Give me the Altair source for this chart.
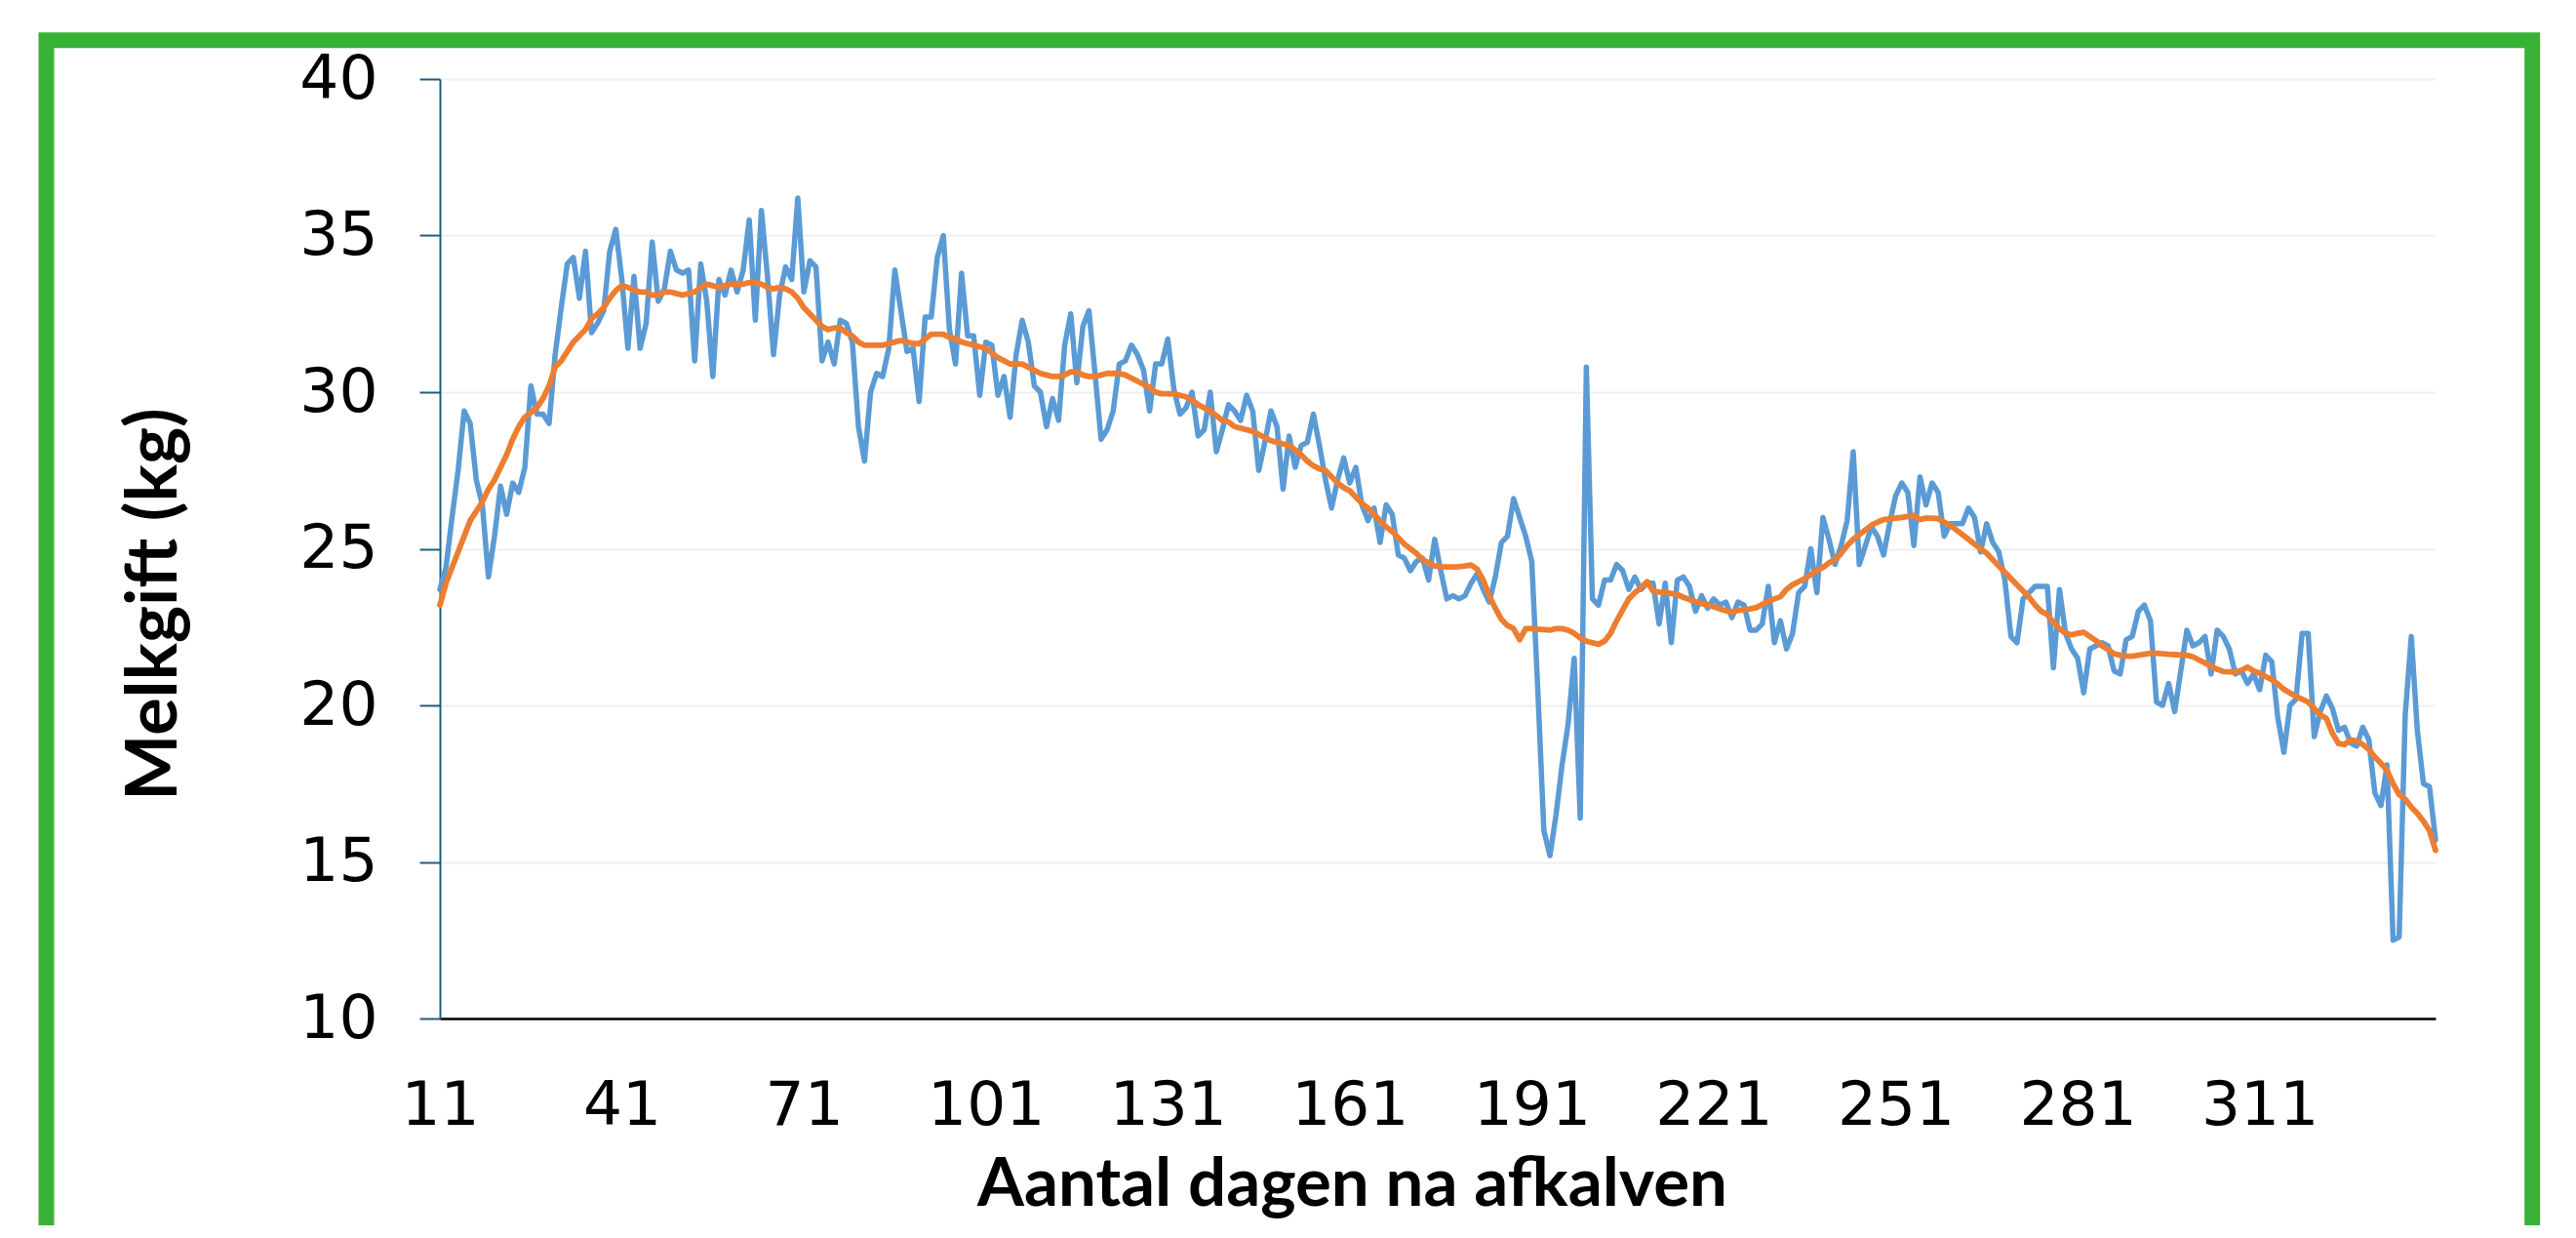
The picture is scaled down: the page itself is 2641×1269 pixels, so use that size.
import altair as alt
import pandas as pd

# Days after calving (x categories)
days = list(range(11, 341))

# Daily milk yield (blue series)
melkgift = [
    23.7, 24.4, 26.0, 27.5, 29.4, 29.0, 27.2, 26.4, 24.1, 25.4,
    27.0, 26.1, 27.1, 26.8, 27.6, 30.2, 29.3, 29.3, 29.0, 31.2,
    32.7, 34.1, 34.3, 33.0, 34.5, 31.9, 32.2, 32.6, 34.5, 35.2,
    33.6, 31.4, 33.7, 31.4, 32.2, 34.8, 32.9, 33.3, 34.5, 33.9,
    33.8, 33.9, 31.0, 34.1, 32.9, 30.5, 33.6, 33.1, 33.9, 33.2,
    33.9, 35.5, 32.3, 35.8, 33.7, 31.2, 33.1, 34.0, 33.6, 36.2,
    33.2, 34.2, 34.0, 31.0, 31.6, 30.9, 32.3, 32.2, 31.6, 28.9,
    27.8, 30.0, 30.6, 30.5, 31.4, 33.9, 32.6, 31.3, 31.4, 29.7,
    32.4, 32.4, 34.3, 35.0, 32.0, 30.9, 33.8, 31.8, 31.8, 29.9,
    31.6, 31.5, 29.9, 30.5, 29.2, 31.2, 32.3, 31.6, 30.2, 30.0,
    28.9, 29.8, 29.1, 31.5, 32.5, 30.3, 32.1, 32.6, 30.6, 28.5,
    28.8, 29.4, 30.9, 31.0, 31.5, 31.2, 30.7, 29.4, 30.9, 30.9,
    31.7, 30.1, 29.3, 29.5, 30.0, 28.6, 28.8, 30.0, 28.1, 28.8,
    29.6, 29.4, 29.1, 29.9, 29.4, 27.5, 28.4, 29.4, 28.9, 26.9,
    28.6, 27.6, 28.3, 28.4, 29.3, 28.3, 27.2, 26.3, 27.2, 27.9,
    27.1, 27.6, 26.4, 25.9, 26.3, 25.2, 26.4, 26.1, 24.8, 24.7,
    24.3, 24.6, 24.7, 24.0, 25.3, 24.3, 23.4, 23.5, 23.4, 23.5,
    23.9, 24.2, 23.7, 23.3, 24.1, 25.2, 25.4, 26.6, 26.0, 25.4,
    24.6, 20.5, 16.0, 15.2, 16.5, 18.1, 19.4, 21.5, 16.4, 30.8,
    23.4, 23.2, 24.0, 24.0, 24.5, 24.3, 23.7, 24.1, 23.7, 23.9,
    23.9, 22.6, 23.9, 22.0, 24.0, 24.1, 23.8, 23.0, 23.5, 23.1,
    23.4, 23.2, 23.3, 22.8, 23.3, 23.2, 22.4, 22.4, 22.6, 23.8,
    22.0, 22.7, 21.8, 22.3, 23.6, 23.8, 25.0, 23.6, 26.0, 25.3,
    24.5, 25.1, 25.9, 28.1, 24.5, 25.1, 25.7, 25.4, 24.8, 25.8,
    26.7, 27.1, 26.8, 25.1, 27.3, 26.4, 27.1, 26.8, 25.4, 25.8,
    25.8, 25.8, 26.3, 26.0, 24.9, 25.8, 25.2, 24.9, 24.0, 22.2,
    22.0, 23.4, 23.6, 23.8, 23.8, 23.8, 21.2, 23.7, 22.3, 21.8,
    21.5, 20.4, 21.8, 21.9, 22.0, 21.9, 21.1, 21.0, 22.1, 22.2,
    23.0, 23.2, 22.7, 20.1, 20.0, 20.7, 19.8, 21.1, 22.4, 21.9,
    22.0, 22.2, 21.0, 22.4, 22.2, 21.8, 21.0, 21.1, 20.7, 21.0,
    20.5, 21.6, 21.4, 19.6, 18.5, 20.0, 20.2, 22.3, 22.3, 19.0,
    19.8, 20.3, 19.9, 19.2, 19.3, 18.8, 18.7, 19.3, 18.9, 17.2,
    16.8, 18.1, 12.5, 12.6, 19.7, 22.2, 19.2, 17.5, 17.4, 15.7,
]

# Smoothed trend (orange series)
trend = [
    23.2, 23.9, 24.4, 24.9, 25.4, 25.9, 26.2, 26.5, 26.9, 27.2,
    27.6, 28.0, 28.5, 28.9, 29.2, 29.35, 29.5, 29.8, 30.2, 30.8,
    31.0, 31.3, 31.6, 31.8, 32.0, 32.35, 32.5, 32.7, 33.0, 33.25,
    33.4, 33.35, 33.25, 33.2, 33.2, 33.1, 33.1, 33.2, 33.2, 33.15,
    33.1, 33.15, 33.2, 33.35, 33.45, 33.4, 33.35, 33.4, 33.45, 33.45,
    33.45, 33.5, 33.5, 33.45, 33.35, 33.3, 33.35, 33.3, 33.2, 33.0,
    32.7, 32.5, 32.3, 32.1, 32.0, 32.05, 32.05, 31.9, 31.8, 31.6,
    31.5, 31.5, 31.5, 31.5, 31.55, 31.6, 31.65, 31.6, 31.55, 31.55,
    31.7, 31.85, 31.85, 31.85, 31.75, 31.7, 31.6, 31.55, 31.5, 31.45,
    31.4, 31.25, 31.1, 31.0, 30.9, 30.9, 30.9, 30.8, 30.7, 30.6,
    30.55, 30.5, 30.5, 30.55, 30.65, 30.65, 30.55, 30.5, 30.5, 30.55,
    30.6, 30.6, 30.6, 30.55, 30.45, 30.35, 30.25, 30.15, 30.0, 29.95,
    29.95, 29.95, 29.9, 29.85, 29.75, 29.6, 29.5, 29.4, 29.25, 29.1,
    29.05, 28.9, 28.85, 28.8, 28.75, 28.65, 28.55, 28.45, 28.4, 28.35,
    28.3, 28.15, 28.0, 27.8, 27.65, 27.55, 27.5, 27.3, 27.1, 26.95,
    26.85, 26.65, 26.45, 26.3, 26.1, 25.9, 25.7, 25.55, 25.35, 25.15,
    25.0, 24.85, 24.65, 24.55, 24.45, 24.43, 24.42, 24.42, 24.43, 24.45,
    24.48, 24.35, 24.0, 23.5, 23.1, 22.75, 22.55, 22.45, 22.1, 22.45,
    22.45, 22.43, 22.42, 22.4, 22.45, 22.45, 22.4, 22.3, 22.15, 22.05,
    22.0, 21.95, 22.05, 22.3, 22.7, 23.05, 23.4, 23.6, 23.75, 23.95,
    23.65, 23.62, 23.6, 23.57, 23.54, 23.45, 23.38, 23.31, 23.25, 23.2,
    23.15, 23.08, 23.02, 22.97, 23.03, 23.06, 23.08, 23.12, 23.22, 23.32,
    23.4, 23.47, 23.7, 23.85, 23.95, 24.05, 24.17, 24.3, 24.4, 24.55,
    24.66, 24.85, 25.1, 25.3, 25.45, 25.6, 25.75, 25.85, 25.93, 25.95,
    25.98, 26.0, 26.03, 26.06, 25.93, 25.98, 25.98, 25.96, 25.85, 25.75,
    25.6, 25.45, 25.3, 25.15, 25.0, 24.85, 24.65, 24.45, 24.25, 24.05,
    23.85, 23.65, 23.45, 23.2, 23.0, 22.9, 22.65, 22.45, 22.3, 22.25,
    22.3, 22.33, 22.2, 22.07, 21.9, 21.78, 21.65, 21.6, 21.58, 21.57,
    21.6, 21.63, 21.66, 21.66, 21.65, 21.63, 21.62, 21.61, 21.6, 21.55,
    21.45, 21.35, 21.25, 21.15, 21.08, 21.07, 21.06, 21.12, 21.22, 21.1,
    21.03, 20.92, 20.82, 20.68, 20.51, 20.4, 20.28, 20.2, 20.1, 19.9,
    19.7, 19.58, 19.11, 18.78, 18.75, 18.9, 18.87, 18.75, 18.59, 18.35,
    18.15, 17.92, 17.5, 17.15, 17.0, 16.75, 16.55, 16.3, 16.0, 15.37,
]

x_tick_values = [11, 41, 71, 101, 131, 161, 191, 221, 251, 281, 311]
y_tick_values = [10, 15, 20, 25, 30, 35, 40]

assert len(days) == len(melkgift) == len(trend)

df = pd.DataFrame({"dag": days, "melkgift": melkgift, "trend": trend})

W, H = 2046, 963
AXIS_BLUE = "#1F5C80"

x_enc = alt.X(
    "dag:Q",
    scale=alt.Scale(domain=[11, 340], nice=False, zero=False),
    axis=alt.Axis(
        values=x_tick_values, format="d", title="Aantal dagen na afkalven",
        grid=False, ticks=False, tickSize=0,
        domainColor="#000000", domainWidth=2.6,
        labelFont="DejaVu Sans", labelFontSize=63, labelColor="#000000",
        labelBaseline="alphabetic", labelPadding=108, labelFlush=False,
        labelOverlap=False,
        titleFont="Lato", titleFontSize=69, titleFontWeight="bold",
        titleColor="#000000", titleX=935, titleY=191,
        titleAlign="center", titleBaseline="alphabetic",
    ),
)

y_axis = alt.Axis(
    values=y_tick_values, title="Melkgift (kg)",
    grid=True, gridColor="#EFEFEF", gridWidth=2,
    domainColor=AXIS_BLUE, domainWidth=2,
    ticks=True, tickColor=AXIS_BLUE, tickWidth=2, tickSize=21,
    labelFont="DejaVu Sans", labelFontSize=63, labelColor="#000000",
    labelPadding=43, labelFlush=False,
    titleFont="Lato", titleFontSize=72, titleFontWeight="bold",
    titleColor="#000000", titleX=-271, titleY=538, titleAngle=270,
    titleAlign="center", titleBaseline="alphabetic",
)

y_scale = alt.Scale(domain=[10, 40], nice=False, zero=False)

blue = alt.Chart(df).mark_line(
    color="#5B9BD5", strokeWidth=5.5, strokeJoin="round", strokeCap="round"
).encode(x=x_enc, y=alt.Y("melkgift:Q", scale=y_scale, axis=y_axis))

orange = alt.Chart(df).mark_line(
    color="#ED7D31", strokeWidth=5.8, strokeJoin="round", strokeCap="round"
).encode(x=alt.X("dag:Q"), y=alt.Y("trend:Q"))

frame = alt.Chart(alt.Data(values=[{}])).mark_rect(
    fillOpacity=0, stroke="#37B236", strokeWidth=16
).encode(
    x=alt.value(-403.5), x2=alt.value(2145.2),
    y=alt.value(-39.7), y2=alt.value(1300),
)

chart = alt.layer(frame, blue, orange).properties(
    width=W, height=H,
    padding={"left": 443, "top": 73, "right": 121, "bottom": 212},
    autosize=alt.AutoSizeParams(type="none"),
    background="#FFFFFF",
).configure_view(strokeWidth=0)

chart.save("out.html", embed_options={"renderer": "svg", "actions": False})
